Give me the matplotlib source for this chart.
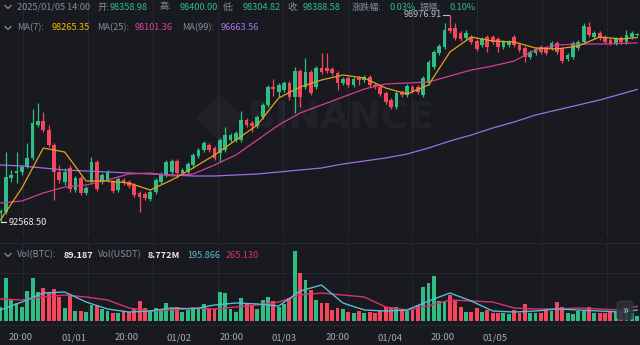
import matplotlib

matplotlib.use("Agg")

import matplotlib.pyplot as plt
import numpy as np
from matplotlib.lines import Line2D
from matplotlib.patches import FancyBboxPatch

BG = "#181a20"
UP = "#2ebd85"
DOWN = "#f6465d"
GRID = "#23272e"
LABEL = "#848e9c"
FONT = ["Noto Sans CJK SC", "DejaVu Sans"]

# hourly candles, 2024/12/31 -> 2025/01/05 14:00 (BTC/USDT)
opens = [92847, 92878, 93928, 94083, 94113, 94268, 94546, 95565, 95688, 95410,
         94947, 94113, 93805, 94237, 93557, 93928, 93465, 93805, 94422, 93805,
         93866, 93805, 93557, 93866, 93805, 93712, 93465, 93434, 93280, 93496,
         93805, 94021, 94113, 94453, 94083, 94113, 94329, 94607, 94793, 94947,
         94854, 94700, 94793, 95101, 95101, 95101, 95719, 95627, 95534, 95812,
         96182, 96738, 96584, 96645, 96862, 96429, 97232, 96738, 97201, 96738,
         97325, 97325, 97294, 97170, 96862, 97016, 96800, 97016, 96954, 97047,
         96800, 96738, 96553, 96337, 96121, 96584, 96491, 96738, 96738, 96491,
         96862, 97356, 97788, 97973, 98560, 98560, 98406, 98251, 98282, 98159,
         98035, 98282, 98282, 98220, 97973, 98035, 98282, 98035, 97942, 97665,
         97788, 97973, 97942, 97942, 98097, 97912, 97603, 97665, 97942, 98128,
         98591, 98282, 98406, 98282, 98189, 98097, 98251, 98128, 98282, 98358.98]
highs = [92971, 94731, 94175, 94731, 94329, 95009, 96059, 96244, 95966, 95565,
         95009, 94329, 94237, 94329, 93990, 93990, 93681, 94576, 94484, 94083,
         94175, 93866, 93959, 93928, 93866, 93774, 93527, 93496, 93557, 93928,
         94113, 94484, 94515, 94515, 94237, 94422, 94700, 94854, 95070, 95009,
         94916, 95163, 95503, 95318, 95379, 95997, 95781, 95688, 95873, 96244,
         96800, 96985, 96862, 96923, 96923, 97356, 97294, 97634, 97263, 97387,
         97788, 97788, 97356, 97232, 97047, 97078, 97047, 97078, 97109, 97109,
         96862, 96800, 96615, 96398, 96615, 96645, 96831, 96800, 96800, 97078,
         97572, 97881, 98066, 98714, 98976.91, 98714, 98468, 98498, 98344, 98220,
         98282, 98344, 98344, 98282, 98189, 98189, 98344, 98097, 98004, 97881,
         97973, 98035, 98004, 98159, 98159, 97973, 97788, 98159, 98189, 98714,
         98745, 98468, 98468, 98344, 98251, 98282, 98313, 98498, 98468, 98400.00]
lows = [92568.5, 92816, 93805, 93774, 94021, 94237, 94484, 95503, 95349, 94885,
        93249, 93774, 93712, 93496, 93496, 93403, 93403, 93743, 93527, 93743,
        93805, 93465, 93496, 93712, 93619, 93341, 92878, 93249, 93218, 93434,
        93743, 93959, 94052, 93928, 94021, 94052, 94268, 94546, 94731, 94731,
        94484, 94422, 94731, 95040, 95040, 95040, 95503, 95349, 95472, 95750,
        96121, 96460, 96429, 96584, 96337, 95935, 96121, 96676, 96491, 96676,
        97140, 97170, 97109, 96645, 96800, 96738, 96738, 96800, 96892, 96738,
        96676, 96460, 96213, 96059, 96059, 96429, 96429, 96553, 96522, 96429,
        96800, 97294, 97726, 97912, 98406, 98189, 98159, 98189, 98066, 97850,
        97973, 97819, 98066, 97819, 97912, 97973, 97973, 97819, 97510, 97603,
        97726, 97757, 97726, 97881, 97757, 97479, 97541, 97603, 97881, 98066,
        98282, 98220, 98189, 98066, 98035, 98035, 98066, 98066, 98220, 98304.82]
closes = [92909, 93959, 94021, 94144, 94268, 94546, 95627, 95688, 95410, 94947,
          94113, 93866, 94113, 93589, 93928, 93465, 93619, 94422, 93589, 94021,
          94113, 93527, 93897, 93774, 93681, 93403, 93341, 93310, 93496, 93866,
          94052, 94422, 94453, 94083, 94175, 94361, 94638, 94793, 95009, 94793,
          94546, 95101, 95256, 95256, 95318, 95719, 95565, 95534, 95812, 96182,
          96738, 96676, 96800, 96862, 96429, 97232, 96429, 97201, 96553, 97325,
          97201, 97232, 97170, 96862, 96985, 96800, 96985, 96954, 97047, 96800,
          96738, 96522, 96275, 96121, 96553, 96491, 96769, 96615, 96584, 97016,
          97510, 97819, 98004, 98498, 98468, 98251, 98220, 98406, 98128, 97912,
          98220, 97973, 98128, 97973, 98128, 98128, 98035, 97881, 97665, 97819,
          97912, 97819, 97788, 98097, 97819, 97541, 97726, 98097, 98128, 98622,
          98344, 98406, 98251, 98128, 98097, 98220, 98128, 98344, 98406, 98388.58]
volumes = [257, 774, 378, 324, 252, 540, 774, 522, 594, 504,
           576, 432, 234, 468, 180, 180, 162, 288, 270, 216,
           180, 144, 144, 162, 162, 216, 360, 234, 198, 234,
           198, 324, 234, 252, 162, 198, 252, 234, 306, 216,
           216, 522, 504, 216, 162, 414, 306, 288, 216, 378,
           432, 360, 252, 306, 414, 1265, 864, 738, 558, 378,
           324, 324, 198, 234, 216, 162, 144, 180, 144, 162,
           144, 198, 252, 252, 252, 198, 180, 198, 288, 612,
           684, 810, 360, 342, 468, 378, 252, 162, 162, 234,
           162, 198, 144, 144, 144, 126, 198, 144, 306, 144,
           144, 144, 216, 180, 342, 252, 144, 126, 180, 180,
           252, 144, 144, 144, 180, 162, 144, 198, 144, 89.187]

# moving averages every 4 candles
ma_idx = list(range(0, 117, 4)) + [119]
ma7 = [92631, 93619, 94854, 94731, 93835, 93835, 93774, 93557, 93866, 94237,
       94638, 95101, 95565, 96398, 96738, 96954, 97109, 97016, 96707, 96522,
       96800, 97819, 98282, 98159, 98128, 97942, 97912, 98004, 98282, 98220, 98265.35]
ma25 = [93156, 93218, 93465, 93650, 93712, 93866, 94052, 94083, 93990, 94052,
        94329, 94638, 95101, 95565, 95935, 96182, 96429, 96676, 96831, 96862,
        96892, 97078, 97263, 97387, 97541, 97881, 98035, 98066, 98066, 98082, 98101.36]
ma99 = [94329, 94299, 94237, 94175, 94144, 94113, 94083, 94052, 94021, 93990,
        93990, 94021, 94052, 94113, 94175, 94237, 94361, 94453, 94546, 94669,
        94854, 95070, 95256, 95472, 95658, 95873, 96028, 96182, 96337, 96522, 96663.56]
vol_ma5 = [198, 342, 504, 522, 342, 216, 162, 180, 234, 216,
           288, 324, 306, 270, 540, 648, 324, 198, 180, 198,
           360, 504, 360, 180, 162, 180, 216, 198, 180, 162, 195.866]
vol_ma10 = [396, 378, 432, 468, 432, 378, 234, 180, 198, 234,
            216, 252, 288, 342, 468, 504, 468, 432, 252, 198,
            270, 378, 360, 342, 234, 216, 216, 234, 216, 198, 265.13]

tick_labels = ["20:00", "01/01", "20:00", "01/02", "20:00", "01/03",
               "20:00", "01/04", "20:00", "01/05"]

W, H = 640, 345
X0, DX = 0.5, 5.35          # pixel of first candle, pixels per candle
P_TOP, P_PX = 99424.7, 30.88  # price at top edge, price per pixel


def to_idx(px):
    return (px - X0) / DX


def put(px, py, s, color, size=6.6, weight="normal", ha="left"):
    fig.text(px / W, 1 - py / H, s, color=color, fontsize=size, ha=ha,
             va="center", family=FONT, weight=weight)


def chevron(py):
    fig.add_artist(Line2D([5 / W, 8 / W, 11 / W],
                          [1 - (py - 1.5) / H, 1 - (py + 1.5) / H, 1 - (py - 1.5) / H],
                          color=LABEL, lw=0.9))


fig = plt.figure(figsize=(6.4, 3.45), dpi=100)
fig.patch.set_facecolor(BG)

ax = fig.add_axes([0, 1 - 237 / H, 1, 237 / H])
vax = fig.add_axes([0, 1 - 321 / H, 1, (321 - 243) / H])
for a in (ax, vax):
    a.set_facecolor(BG)
    a.set_xlim(to_idx(0), to_idx(W))
    for s in a.spines.values():
        s.set_visible(False)
    a.set_xticks([])
    a.set_yticks([])
    for gx in 23 + 64.9 * np.arange(10):
        a.axvline(to_idx(gx), color=GRID, lw=0.8, zorder=0)

ax.set_ylim(P_TOP - P_PX * 237, P_TOP)
vax.set_ylim(0, 78 * 18)

x = np.arange(len(closes))
o = np.array(opens)
c = np.array(closes)
col = np.where(c >= o, UP, DOWN)

# watermark
ax.text(to_idx(340), P_TOP - P_PX * 118, "BINANCE", color="white", alpha=0.035,
        fontsize=27, weight="bold", ha="center", va="center", family="DejaVu Sans")
ax.plot([to_idx(220)], [P_TOP - P_PX * 118], marker="D", ms=24, color="white",
        alpha=0.03, mew=0)

ax.vlines(x, lows, highs, colors=col, lw=0.9, zorder=2)
ax.bar(x, np.maximum(np.abs(c - o), 25), width=0.7, bottom=np.minimum(o, c),
       color=col, lw=0, zorder=3)
ax.plot(ma_idx, ma99, color="#9c6fe4", lw=0.9, zorder=4)
ax.plot(ma_idx, ma25, color="#d63d93", lw=0.9, zorder=4)
ax.plot(ma_idx, ma7, color="#e5a41a", lw=0.9, zorder=4)

# high / low markers
hi_i = int(np.argmax(highs))
ax.plot([hi_i - 1.3, hi_i - 0.2], [highs[hi_i]] * 2, color="#b7bdc6", lw=0.8)
ax.text(hi_i - 1.6, highs[hi_i], f"{highs[hi_i]:.2f}", color="#b7bdc6", fontsize=6.6,
        ha="right", va="center", family=FONT)
lo_i = int(np.argmin(lows))
ax.plot([lo_i, lo_i + 1.1], [lows[lo_i]] * 2, color="#eaecef", lw=0.8)
ax.text(lo_i + 1.5, lows[lo_i], f"{lows[lo_i]:.2f}", color="#eaecef", fontsize=6.6,
        ha="left", va="center", family=FONT)

vax.bar(x, volumes, width=0.72, color=col, lw=0)
vax.plot(ma_idx, vol_ma10, color="#d8336a", lw=1.0)
vax.plot(ma_idx, vol_ma5, color="#56bcd6", lw=1.0)
vax.axhline(1404 * (1 - 30 / 78), color=GRID, lw=0.8, zorder=0)

# separators and x labels
fig.add_artist(Line2D([0, 1], [1 - 243 / H] * 2, color=GRID, lw=0.8))
fig.add_artist(Line2D([0, 1], [1 - 325 / H] * 2, color=GRID, lw=0.8))
for lab, px in zip(tick_labels, 21 + 52.7 * np.arange(10)):
    put(px, 338, lab, "#a5abb4", size=6.8, ha="center")

# header line 1
chevron(7)
put(17, 7, "2025/01/05 14:00", LABEL)
put(97, 7, "开:", LABEL)
put(110, 7, f"{opens[-1]:.2f}", UP)
put(160, 7, "高:", LABEL)
put(180, 7, f"{highs[-1]:.2f}", UP)
put(223, 7, "低:", LABEL)
put(243, 7, f"{lows[-1]:.2f}", UP)
put(287, 7, "收:", LABEL)
put(303, 7, f"{closes[-1]:.2f}", UP)
put(352, 7, "涨跌幅:", LABEL)
put(389, 7, "0.03%", UP)
put(420, 7, "振幅:", LABEL)
put(450, 7, "0.10%", UP)

# header line 2
chevron(28)
put(17, 28, "MA(7):", LABEL)
put(52, 28, f"{ma7[-1]:.2f}", "#f0b90b")
put(97, 28, "MA(25):", LABEL)
put(135, 28, f"{ma25[-1]:.2f}", "#d9449a")
put(182, 28, "MA(99):", LABEL)
put(221, 28, f"{ma99[-1]:.2f}", "#a375ea")

# volume header
chevron(255)
put(17, 255, "Vol(BTC):", LABEL)
put(64, 255, f"{volumes[-1]:.3f}", "#eaecef", weight="bold")
put(98, 255, "Vol(USDT)", LABEL)
put(148, 255, "8.772M", "#eaecef", weight="bold")
put(187, 255, f"{vol_ma5[-1]:.3f}", "#56bcd6")
put(226, 255, f"{vol_ma10[-1]:.3f}", "#d8336a")

# scroll button
btn = FancyBboxPatch((617 / W, 1 - 320 / H), 16 / W, 19 / H,
                     boxstyle="round,pad=0,rounding_size=0.008",
                     transform=fig.transFigure, facecolor="#2b3139", alpha=0.85,
                     edgecolor="#3a4049", lw=0.6)
fig.add_artist(btn)
put(625, 310, "»", "#b7bdc6", size=9, ha="center")

fig.savefig("out.png", dpi=100, facecolor=BG)
